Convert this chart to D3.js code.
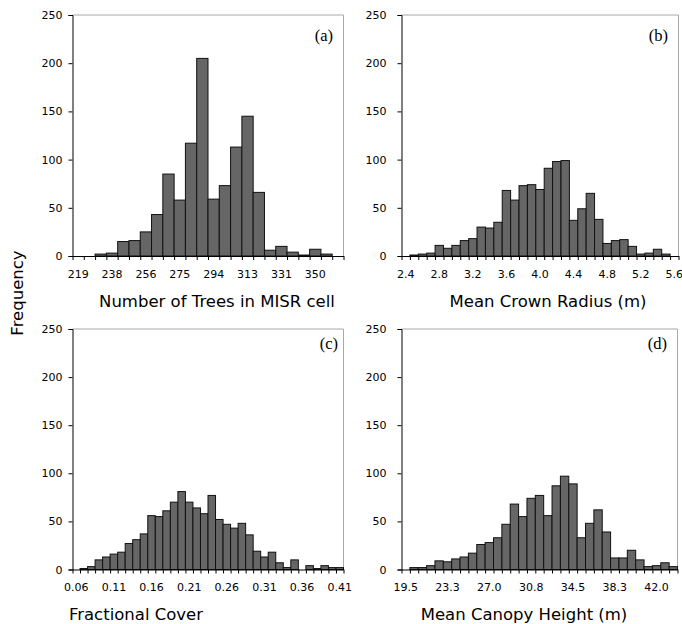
<!DOCTYPE html>
<html>
<head>
<meta charset="utf-8">
<script src="https://cdn.jsdelivr.net/npm/d3@7"></script>
<style>
  body { margin: 0; background: #fff; }
  svg { display: block; }
</style>
</head>
<body>
<div id="chart"></div>
<script>
// frequencies per bin
const treeCounts   = [0, 0, 2, 3, 15, 16, 25, 43, 85, 58, 117, 205, 59, 73, 113, 145, 66, 6, 10, 4, 1, 7, 2, 0];
const crownCounts  = [0, 1, 2, 3, 11, 8, 11, 16, 18, 30, 29, 35, 68, 58, 73, 74, 69, 91, 98, 99, 37, 49, 65, 38, 13, 16, 17, 10, 2, 3, 7, 2, 0];
const coverCounts  = [0, 1, 3, 10, 13, 16, 18, 27, 31, 37, 56, 55, 61, 70, 81, 70, 64, 58, 77, 52, 47, 43, 48, 36, 19, 13, 18, 7, 2, 10, 0, 4, 1, 4, 2, 2];
const heightCounts = [0, 2, 2, 4, 9, 8, 11, 13, 17, 26, 28, 33, 47, 68, 55, 74, 77, 56, 87, 97, 89, 33, 48, 62, 39, 12, 12, 20, 10, 3, 4, 7, 3];

// category labels (only every n-th bin is labelled)
const treeLabels   = ["219", "238", "256", "275", "294", "313", "331", "350"];
const crownLabels  = ["2.4", "2.8", "3.2", "3.6", "4.0", "4.4", "4.8", "5.2", "5.6"];
const coverLabels  = ["0.06", "0.11", "0.16", "0.21", "0.26", "0.31", "0.36", "0.41"];
const heightLabels = ["19.5", "23.3", "27.0", "30.8", "34.5", "38.3", "42.0"];

const yTicks = [0, 50, 100, 150, 200, 250];

const width = 682, height = 624;
const sans = "'DejaVu Sans', Verdana, sans-serif";

const svg = d3.select("#chart")
  .append("svg")
    .attr("width", width)
    .attr("height", height);

// one entry per panel
const panels = [
  { counts: treeCounts,   labels: treeLabels,   every: 3, tag: "(a)", title: "Number of Trees in MISR cell",
    x0: 72.5, x1: 343.5, y0: 15, y1: 256, yPad: 6, tagX: 333, tagY: 41, titleX: 217, titleY: 307 },
  { counts: crownCounts,  labels: crownLabels,  every: 4, tag: "(b)", title: "Mean Crown Radius (m)",
    x0: 401.5, x1: 678.5, y0: 15, y1: 256, yPad: 11, tagX: 668, tagY: 41, titleX: 548, titleY: 307 },
  { counts: coverCounts,  labels: coverLabels,  every: 5, tag: "(c)", title: "Fractional Cover",
    x0: 72.5, x1: 343.5, y0: 329, y1: 569.5, yPad: 6, tagX: 338, tagY: 349, titleX: 136, titleY: 620 },
  { counts: heightCounts, labels: heightLabels, every: 5, tag: "(d)", title: "Mean Canopy Height (m)",
    x0: 401.5, x1: 677.5, y0: 329, y1: 569.5, yPad: 11, tagX: 667, tagY: 349, titleX: 524, titleY: 620 }
];

panels.forEach(drawPanel);

function drawPanel(p) {
  const n = p.counts.length;
  const g = svg.append("g");

  const x = d3.scaleBand()
    .domain(d3.range(n))
    .range([p.x0, p.x1])
    .padding(0);

  // linear twin of the band scale, for tick marks on the bin edges
  const xEdge = d3.scaleLinear()
    .domain([0, n])
    .range([p.x0, p.x1]);

  const y = d3.scaleLinear()
    .domain([0, 250])
    .range([p.y1, p.y0]);

  // grey frame on top and right
  g.append("path")
    .attr("d", `M${p.x0},${p.y0}H${p.x1}V${p.y1}`)
    .attr("fill", "none")
    .attr("stroke", "#a8a8a8")
    .attr("stroke-width", 1);

  // bars
  g.append("g")
    .selectAll("rect")
    .data(p.counts.map((v, i) => ({ i, v })).filter(d => d.v > 0))
    .join("rect")
      .attr("x", d => x(d.i))
      .attr("y", d => y(d.v))
      .attr("width", x.bandwidth())
      .attr("height", d => p.y1 - y(d.v))
      .attr("fill", "#666666")
      .attr("stroke", "#111")
      .attr("stroke-width", 1);

  // x axis: tick marks at bin edges
  const xAxis = g.append("g")
    .attr("transform", `translate(0,${p.y1})`)
    .call(d3.axisBottom(xEdge).tickValues(d3.range(n + 1)).tickFormat("").tickSizeInner(4).tickSizeOuter(0));
  xAxis.select(".domain").attr("stroke", "#000");

  // x labels centred on every n-th bin
  const labelIdx = p.labels.map((_, k) => k * p.every);
  const xLab = g.append("g")
    .attr("transform", `translate(0,${p.y1})`)
    .call(d3.axisBottom(x).tickValues(labelIdx).tickFormat(i => p.labels[i / p.every]).tickSize(0).tickPadding(14));
  xLab.select(".domain").remove();
  xLab.selectAll("text").attr("font-family", sans).attr("font-size", 11).attr("fill", "#000");

  // y axis
  const yAxis = g.append("g")
    .attr("transform", `translate(${p.x0},0)`)
    .call(d3.axisLeft(y).tickValues(yTicks).tickSize(4).tickPadding(p.yPad));
  yAxis.selectAll("text").attr("font-family", sans).attr("font-size", 11).attr("fill", "#000");

  // panel tag
  g.append("text")
    .attr("x", p.tagX)
    .attr("y", p.tagY)
    .attr("text-anchor", "end")
    .attr("font-family", "'Liberation Serif', 'Times New Roman', serif")
    .attr("font-size", 16.5)
    .text(p.tag);

  // axis title
  g.append("text")
    .attr("x", p.titleX)
    .attr("y", p.titleY)
    .attr("text-anchor", "middle")
    .attr("font-family", sans)
    .attr("font-size", 16.5)
    .text(p.title);
}

// shared y title
svg.append("text")
  .attr("transform", "translate(23,293) rotate(-90)")
  .attr("text-anchor", "middle")
  .attr("font-family", sans)
  .attr("font-size", 16.5)
  .text("Frequency");
</script>
</body>
</html>
